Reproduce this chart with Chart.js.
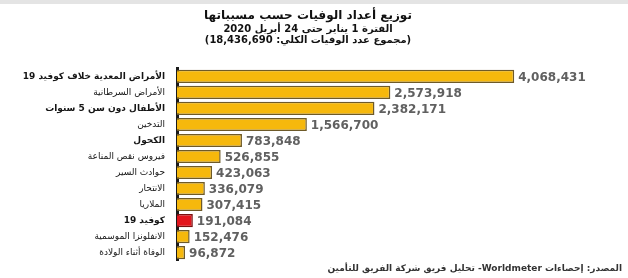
<!DOCTYPE html>
<html>
<head>
<meta charset="utf-8">
<script src="https://cdn.jsdelivr.net/npm/chart.js@4.4.1/dist/chart.umd.min.js"></script>
<style>
    body { margin: 0; background: #fff; }
    #wrap { position: relative; width: 628px; height: 278px; }
    #strip { position: absolute; left: 0; top: 0; width: 628px; height: 4px; background: #e4e4e4; }
    canvas { direction: rtl; }
</style>
</head>
<body>
<div id="wrap">
    <canvas id="deaths-chart"></canvas>
    <div id="strip"></div>
</div>
<script>
const causes = [
    'الأمراض المعدية خلاف كوفيد 19',
    'الأمراض السرطانية',
    'الأطفال دون سن 5 سنوات',
    'التدخين',
    'الكحول',
    'فيروس نقص المناعة',
    'حوادث السير',
    'الانتحار',
    'الملاريا',
    'كوفيد 19',
    'الانفلونزا الموسمية',
    'الوفاة أثناء الولادة'
];
const deaths = [4068431, 2573918, 2382171, 1566700, 783848, 526855, 423063, 336079, 307415, 191084, 152476, 96872];

const titleText = 'توزيع أعداد الوفيات حسب مسبباتها';
const subtitleLines = [
    'الفترة 1 يناير حتى 24 أبريل 2020',
    '(مجموع عدد الوفيات الكلي: 18,436,690)'
];
const sourceText = 'المصدر: إحصاءات Worldmeter- تحليل فريق شركة الفريق للتأمين';

const highlight = 'كوفيد 19';
const boldCauses = ['الأمراض المعدية خلاف كوفيد 19', 'الأطفال دون سن 5 سنوات', 'الكحول', 'كوفيد 19'];

// value labels at the end of each bar + source line
const labelsPlugin = {
    id: 'labels',
    afterDatasetsDraw(chart) {
        const ctx = chart.ctx;
        const meta = chart.getDatasetMeta(0);
        ctx.save();
        ctx.font = 'bold 12px "DejaVu Sans"';
        ctx.fillStyle = '#606060';
        ctx.textAlign = 'left';
        ctx.textBaseline = 'middle';
        meta.data.forEach((bar, i) => {
            ctx.fillText(deaths[i].toLocaleString('en-US'), bar.x + 4, bar.y + 1);
        });
        ctx.font = 'bold 9px "DejaVu Sans"';
        ctx.fillStyle = '#333';
        ctx.textAlign = 'right';
        ctx.fillText(sourceText, 622, 269);
        ctx.restore();
    }
};

const ctx = document.getElementById('deaths-chart').getContext('2d');
const chart = new Chart(ctx, {
    type: 'bar',
    data: {
        labels: causes,
        datasets: [{
            data: deaths,
            backgroundColor: causes.map(c => c === highlight ? '#e3151d' : '#f6b80c'),
            borderColor: causes.map(c => c === highlight ? '#7a1010' : '#6e5a28'),
            borderWidth: 1.5,
            borderSkipped: 'left',
            barPercentage: 0.82,
            categoryPercentage: 1,
        }],
    },
    options: {
        indexAxis: 'y',
        responsive: true,
        maintainAspectRatio: false,
        animation: false,
        layout: { padding: { left: 8, right: 20, top: 0, bottom: 1 } },
        plugins: {
            legend: { display: false },
            tooltip: { enabled: false },
            title: {
                display: true,
                text: titleText,
                color: '#111',
                font: { family: 'DejaVu Sans', size: 12, weight: 'bold' },
                padding: { top: 9, bottom: 1 },
            },
            subtitle: {
                display: true,
                text: subtitleLines,
                color: '#111',
                font: { family: 'DejaVu Sans', size: 10, weight: 'bold', lineHeight: 1.1 },
                padding: { top: 0, bottom: 22 },
            },
        },
        scales: {
            x: {
                display: false,
                min: 0,
                max: 5200000,
            },
            y: {
                afterFit(scale) { scale.width = 169; },
                grid: { display: false, drawTicks: false },
                border: { display: true, color: '#1a1a1a', width: 3 },
                ticks: {
                    padding: 12,
                    color: '#151515',
                    font: (c) => ({
                        family: 'DejaVu Sans',
                        size: 9,
                        weight: boldCauses.includes(causes[c.index]) ? 'bold' : 'normal',
                    }),
                },
            },
        },
    },
    plugins: [labelsPlugin],
});
</script>
</body>
</html>
